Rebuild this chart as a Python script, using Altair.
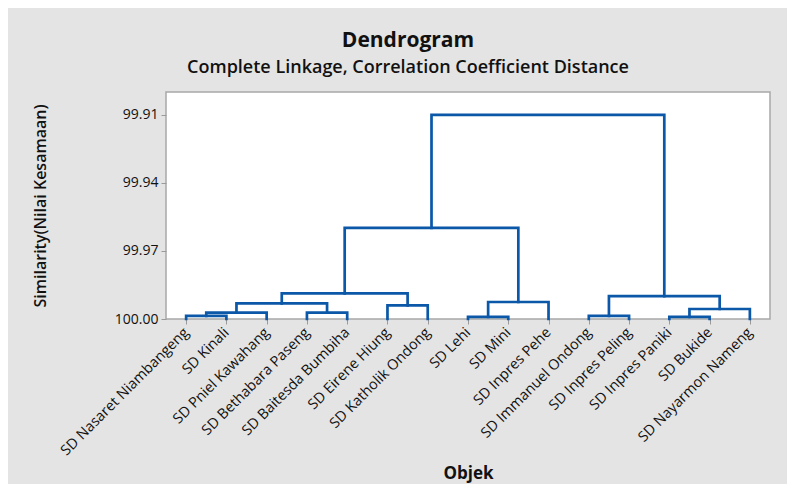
import json
import altair as alt
import pandas as pd

leaves = ["SD Nasaret Niambangeng", "SD Kinali", "SD Pniel Kawahang", "SD Bethabara Paseng",
          "SD Baitesda Bumbiha", "SD Eirene Hiung", "SD Katholik Ondong", "SD Lehi", "SD Mini",
          "SD Inpres Pehe", "SD Immanuel Ondong", "SD Inpres Peling", "SD Inpres Paniki",
          "SD Bukide", "SD Nayarmon Nameng"]
# merges: node ids 0..14 are leaves, 15.. are clusters in merge order
merge_left = [7, 12, 0, 10, 17, 3, 16, 5, 19, 15, 18, 23, 26, 27]
merge_right = [8, 13, 1, 11, 2, 4, 14, 6, 20, 9, 21, 22, 24, 25]
merge_height = [99.9991, 99.9991, 99.9986, 99.9986, 99.9972, 99.9972, 99.9956, 99.9940,
                99.9931, 99.9925, 99.9899, 99.9887, 99.9599, 99.9101]
y_ticks = [99.91, 99.94, 99.97, 100.00]

n = len(leaves)
pos = {i: i + 1 for i in range(n)}
hgt = {i: 100.0 for i in range(n)}
rows = []
for k, (a, b, h) in enumerate(zip(merge_left, merge_right, merge_height)):
    node = n + k
    pts = [(pos[a], hgt[a]), (pos[a], h), (pos[b], h), (pos[b], hgt[b])]
    for j, (px, py) in enumerate(pts):
        rows.append({"merge": k, "step": j, "x": px, "y": py})
    pos[node] = (pos[a] + pos[b]) / 2
    hgt[node] = h
df = pd.DataFrame(rows)

FONT = "Open Sans"
label_expr = json.dumps(leaves) + "[datum.value - 1]"

chart = alt.Chart(df).mark_line(
    color="#0B57A8", strokeWidth=2.7, strokeJoin="miter", strokeCap="square", clip=False
).encode(
    x=alt.X("x:Q", scale=alt.Scale(domain=[0.5, n + 0.5], nice=False, zero=False),
            axis=alt.Axis(values=list(range(1, n + 1)), labelExpr=label_expr, labelAngle=-45,
                          labelAlign="right", labelBaseline="middle", labelFontSize=14.5,
                          labelFont=FONT, labelColor="#111111", labelPadding=6,
                          labelOverlap=False, labelBound=False, labelFlush=False,
                          title="Objek", titleFontSize=17, titleFont=FONT, titleFontWeight="bold",
                          titleColor="#111111", titlePadding=8, tickColor="#9A9A9A", tickSize=5,
                          domain=False, grid=False)),
    y=alt.Y("y:Q", scale=alt.Scale(domain=[99.90, 100.0], nice=False, zero=False, reverse=True),
            axis=alt.Axis(values=y_ticks, format=".2f", labelFontSize=14, labelFont=FONT,
                          labelFontWeight="normal", labelColor="#111111", labelPadding=3,
                          title="Similarity(Nilai Kesamaan)", titleFontSize=16, titleFont=FONT,
                          titleFontWeight=600, titleColor="#111111", titlePadding=66,
                          tickColor="#9A9A9A", tickSize=5, domain=False, grid=False)),
    detail="merge:N",
    order="step:Q",
).properties(
    width=604,
    height=227,
    autosize="none",
    padding={"left": 158, "top": 84, "right": 17, "bottom": 165},
    title=alt.TitleParams("Dendrogram", subtitle="Complete Linkage, Correlation Coefficient Distance",
                          font=FONT, fontSize=21, fontWeight="bold", color="#111111",
                          subtitleFont=FONT, subtitleFontSize=18, subtitleFontWeight=600,
                          subtitleColor="#111111", subtitlePadding=8,
                          anchor="middle", dx=-60, offset=15),
).configure(
    background="#E4E4E4",
).configure_view(
    fill="white", stroke="#A8A8A8", strokeWidth=1.5
)

chart.save("out.html", embed_options={"renderer": "svg", "actions": False})
